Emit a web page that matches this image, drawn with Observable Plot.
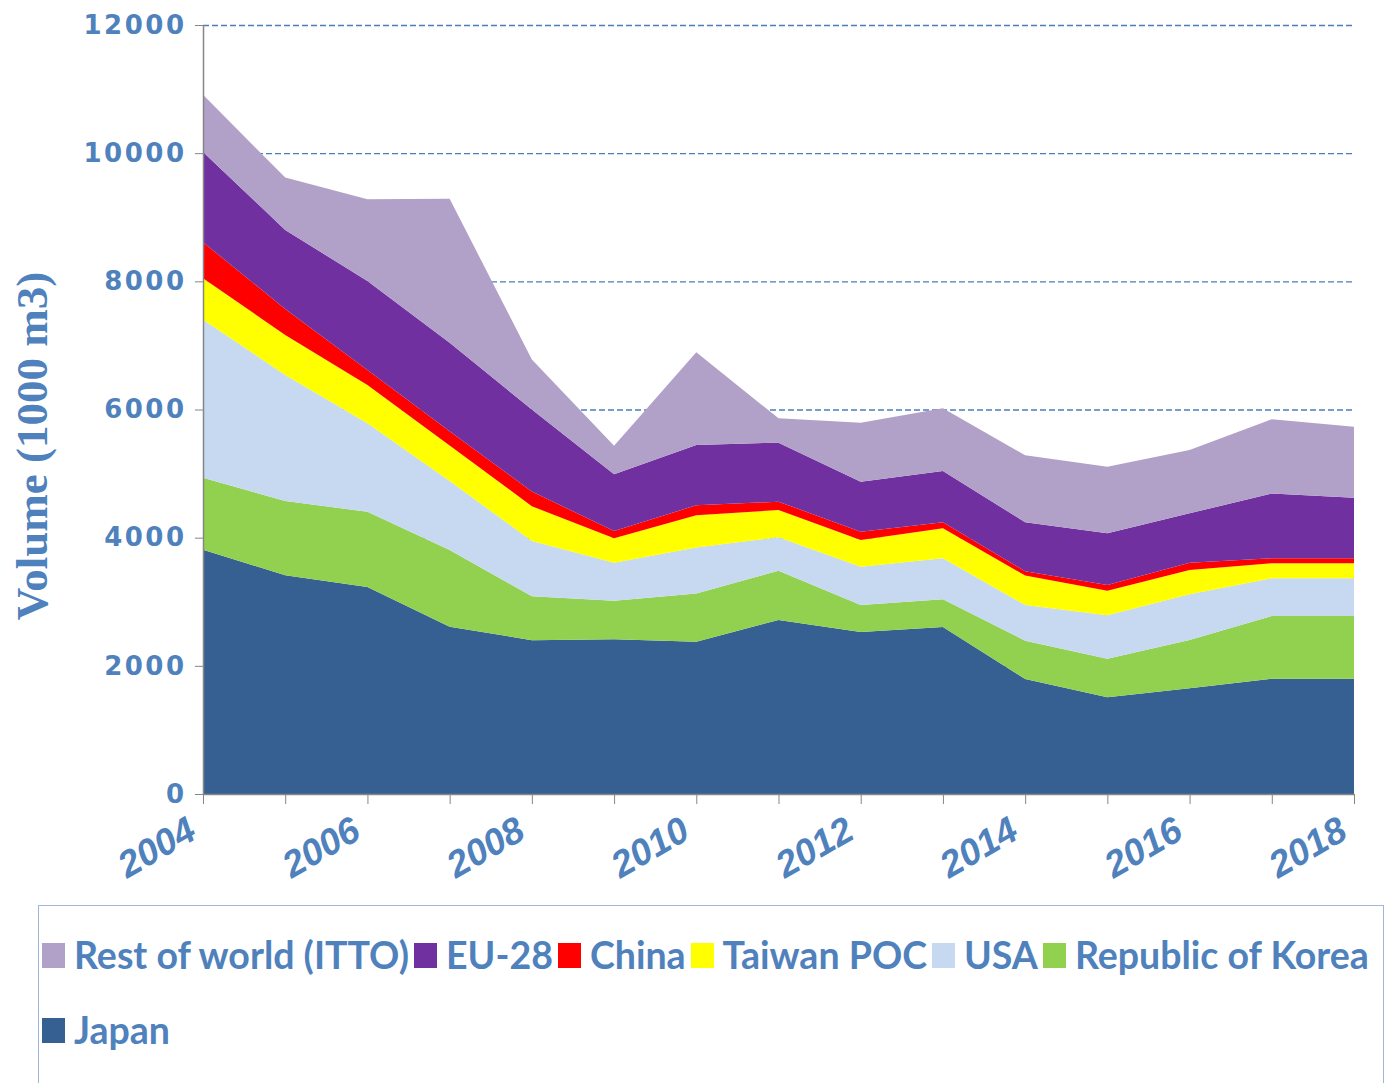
<!DOCTYPE html>
<html><head><meta charset="utf-8">
<script src="https://cdn.jsdelivr.net/npm/d3@7"></script>
<script src="https://cdn.jsdelivr.net/npm/@observablehq/plot@0.6"></script>
<style>
body{margin:0;background:#fff;width:1385px;height:1083px;overflow:hidden;position:relative}
#chart{position:absolute;left:0;top:0}
#legend{position:absolute;left:38px;top:905px;width:1346px;height:190px;border:1px solid #9FB6D6;box-sizing:border-box;background:#fff}
.row{position:absolute;left:3px;height:50px;display:flex;align-items:center;white-space:nowrap}
.item{display:flex;align-items:center;margin-right:5px}
.sw{width:23px;height:25px;margin-right:9px;flex:none}
.lab{font-family:Lato;font-weight:bold;font-size:37.5px;color:#4F81BD;line-height:50px}
g[aria-label="y-axis tick label"] text{letter-spacing:2.5px}
</style>
</head><body>
<div id="chart"></div>
<div id="legend"></div>
<script>
const years = [2004,2005,2006,2007,2008,2009,2010,2011,2012,2013,2014,2015,2016,2017,2018];
const japan  = [3810,3413,3230,2611,2400,2414,2377,2715,2528,2606,1795,1509,1649,1800,1800];
const korea  = [1125,1159,1175,1197,685,602,753,770,421,433,598,602,754,978,978];
const usa    = [2465,1967,1380,1077,863,594,717,521,598,638,556,678,713,588,588];
const taiwan = [650,624,598,555,542,380,503,426,417,469,461,384,380,233,233];
const china  = [560,406,234,220,230,114,155,130,130,94,65,89,114,78,78];
const eu28   = [1410,1232,1389,1380,1280,885,941,921,780,801,765,806,770,1013,946];
const rest   = [890,819,1274,2250,780,447,1447,380,921,977,1045,1040,988,1156,1109];

const seriesNames = ["Japan","Republic of Korea","USA","Taiwan POC","China","EU-28","Rest of world (ITTO)"];
const seriesValues = [japan, korea, usa, taiwan, china, eu28, rest];
const seriesColors = ["#366092","#92D050","#C6D9F1","#FFFF00","#FF0000","#7030A0","#B1A0C7"];
const yTicks = [0,2000,4000,6000,8000,10000,12000];
const xLabelYears = [2004,2006,2008,2010,2012,2014,2016,2018];
const yTitle = "Volume (1000 m3)";

const blue = "#4F81BD";
const gray = "#868686";

const data = [];
seriesNames.forEach((s, k) => years.forEach((yr, i) => data.push({year: yr, series: s, value: seriesValues[k][i]})));

const chart = Plot.plot({
  width: 1385,
  height: 900,
  marginLeft: 203,
  marginRight: 31,
  marginTop: 25,
  marginBottom: 106,
  x: {domain: [2004, 2018]},
  y: {domain: [0, 12000]},
  color: {domain: seriesNames, range: seriesColors},
  marks: [
    Plot.ruleY(yTicks.filter(d => d > 0), {stroke: "#4A7EBB", strokeDasharray: "6,3", strokeWidth: 1.3}),
    Plot.areaY(data, {x: "year", y: "value", z: "series", fill: "series", order: seriesNames}),
    Plot.ruleX([2004], {y1: 0, y2: 12000, stroke: gray, strokeWidth: 1.5}),
    Plot.ruleY([0], {stroke: gray, strokeWidth: 1.5}),
    Plot.axisX({ticks: years, tickSize: 10, tickFormat: () => "", stroke: gray, label: null}),
    Plot.axisY({ticks: yTicks, tickSize: 8, tickFormat: () => "", stroke: gray, label: null}),
    Plot.axisY({ticks: yTicks, tickSize: 0, tickPadding: 17, tickFormat: d => String(d), fill: blue, fontSize: 26, fontFamily: "DejaVu Sans", fontWeight: "bold", label: null}),
    Plot.text(xLabelYears, {x: d => d, text: d => String(d), frameAnchor: "bottom", rotate: -30, textAnchor: "end", lineAnchor: "bottom", dx: -5, dy: 43, fontSize: 37, fontWeight: "bold", fontStyle: "italic", fontFamily: "Liberation Sans", fill: blue}),
    Plot.text([yTitle], {text: d => d, frameAnchor: "left", textAnchor: "middle", lineAnchor: "middle", rotate: -90, dx: -171, dy: 36, fontSize: 45, fontFamily: "Liberation Serif", fontWeight: "bold", fill: blue})
  ]
});
document.getElementById("chart").appendChild(chart);

// legend (top series first)
const legend = document.getElementById("legend");
const order = seriesNames.map((s, k) => k).reverse();
const rows = [order.slice(0, 6), order.slice(6)];
rows.forEach((r, ri) => {
  const row = document.createElement("div");
  row.className = "row";
  row.style.top = (24 + ri * 75) + "px";
  r.forEach(k => {
    const it = document.createElement("div");
    it.className = "item";
    it.innerHTML = `<span class="sw" style="background:${seriesColors[k]}"></span><span class="lab">${seriesNames[k]}</span>`;
    row.appendChild(it);
  });
  legend.appendChild(row);
});
</script>
</body></html>
